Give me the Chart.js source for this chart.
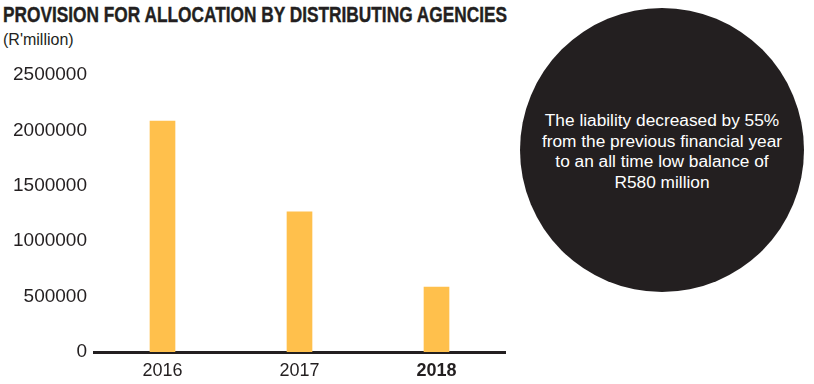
<!DOCTYPE html>
<html>
<head>
<meta charset="utf-8">
<script src="https://cdn.jsdelivr.net/npm/chart.js@4/dist/chart.umd.min.js"></script>
<style>
  body { margin: 0; background: #fff; width: 814px; height: 384px; position: relative; overflow: hidden; font-family: "Liberation Sans", Arial, sans-serif; color: #231f20; }
  #title { position: absolute; left: 3px; top: 2px; font-family: "Liberation Sans", Arial, sans-serif; font-weight: bold; font-size: 22px; white-space: nowrap; transform-origin: 0 0; -webkit-text-stroke: 0.4px #231f20; }
  #sub { position: absolute; left: 3px; top: 31px; font-size: 16px; }
  #wrap { position: absolute; left: 0; top: 0; width: 520px; height: 384px; }
  #bubble { position: absolute; left: 520px; top: 8px; width: 284px; height: 284px; border-radius: 50%; background: #231f20; }
  #note { position: absolute; left: 520px; top: 110px; width: 284px; text-align: center; color: #fff; font-size: 17.3px; line-height: 20.7px; }
</style>
</head>
<body>
<div id="title">PROVISION FOR ALLOCATION BY DISTRIBUTING AGENCIES</div>
<div id="sub">(R'million)</div>
<div id="wrap"><canvas id="myChart" width="520" height="384"></canvas></div>
<div id="bubble"></div>
<div id="note">The liability decreased by 55%<br>from the previous financial year<br>to an all time low balance of<br>R580 million</div>
<script>
const years = ["2016", "2017", "2018"];
const provision = [2085000, 1265000, 585000];
const yTicks = [0, 500000, 1000000, 1500000, 2000000, 2500000];

const ink = "#231f20";

document.addEventListener("DOMContentLoaded", function() {
  // squeeze the title into the condensed look of the original
  const title = document.getElementById("title");
  const w = title.getBoundingClientRect().width;
  title.style.transform = "scaleX(" + (504 / w) + ")";

  const ctx = document.getElementById("myChart").getContext("2d");
  new Chart(ctx, {
    type: "bar",
    data: {
      labels: years,
      datasets: [{
        data: provision,
        backgroundColor: "#ffc04c",
        barThickness: 25
      }]
    },
    options: {
      responsive: false,
      animation: false,
      layout: { padding: { top: 75, right: 15, left: 0, bottom: 0 } },
      plugins: { legend: { display: false }, tooltip: { enabled: false } },
      scales: {
        x: {
          z: 1,
          grid: { display: false, drawTicks: false },
          border: { display: true, color: ink, width: 3 },
          ticks: {
            color: ink,
            padding: 8,
            font: c => ({ family: "Liberation Sans, Arial, sans-serif", size: 18, weight: c.index === 2 ? "bold" : "normal" })
          },
          afterFit: s => { s.height = 32; }
        },
        y: {
          min: 0,
          max: 2500000,
          grid: { display: false, drawTicks: false },
          border: { display: false },
          afterBuildTicks: s => { s.ticks = yTicks.map(v => ({ value: v })); },
          ticks: {
            color: ink,
            padding: 7,
            font: { family: "Liberation Sans, Arial, sans-serif", size: 19 },
            callback: v => String(v)
          },
          afterFit: s => { s.width = 94; }
        }
      }
    }
  });
});
</script>
</body>
</html>
